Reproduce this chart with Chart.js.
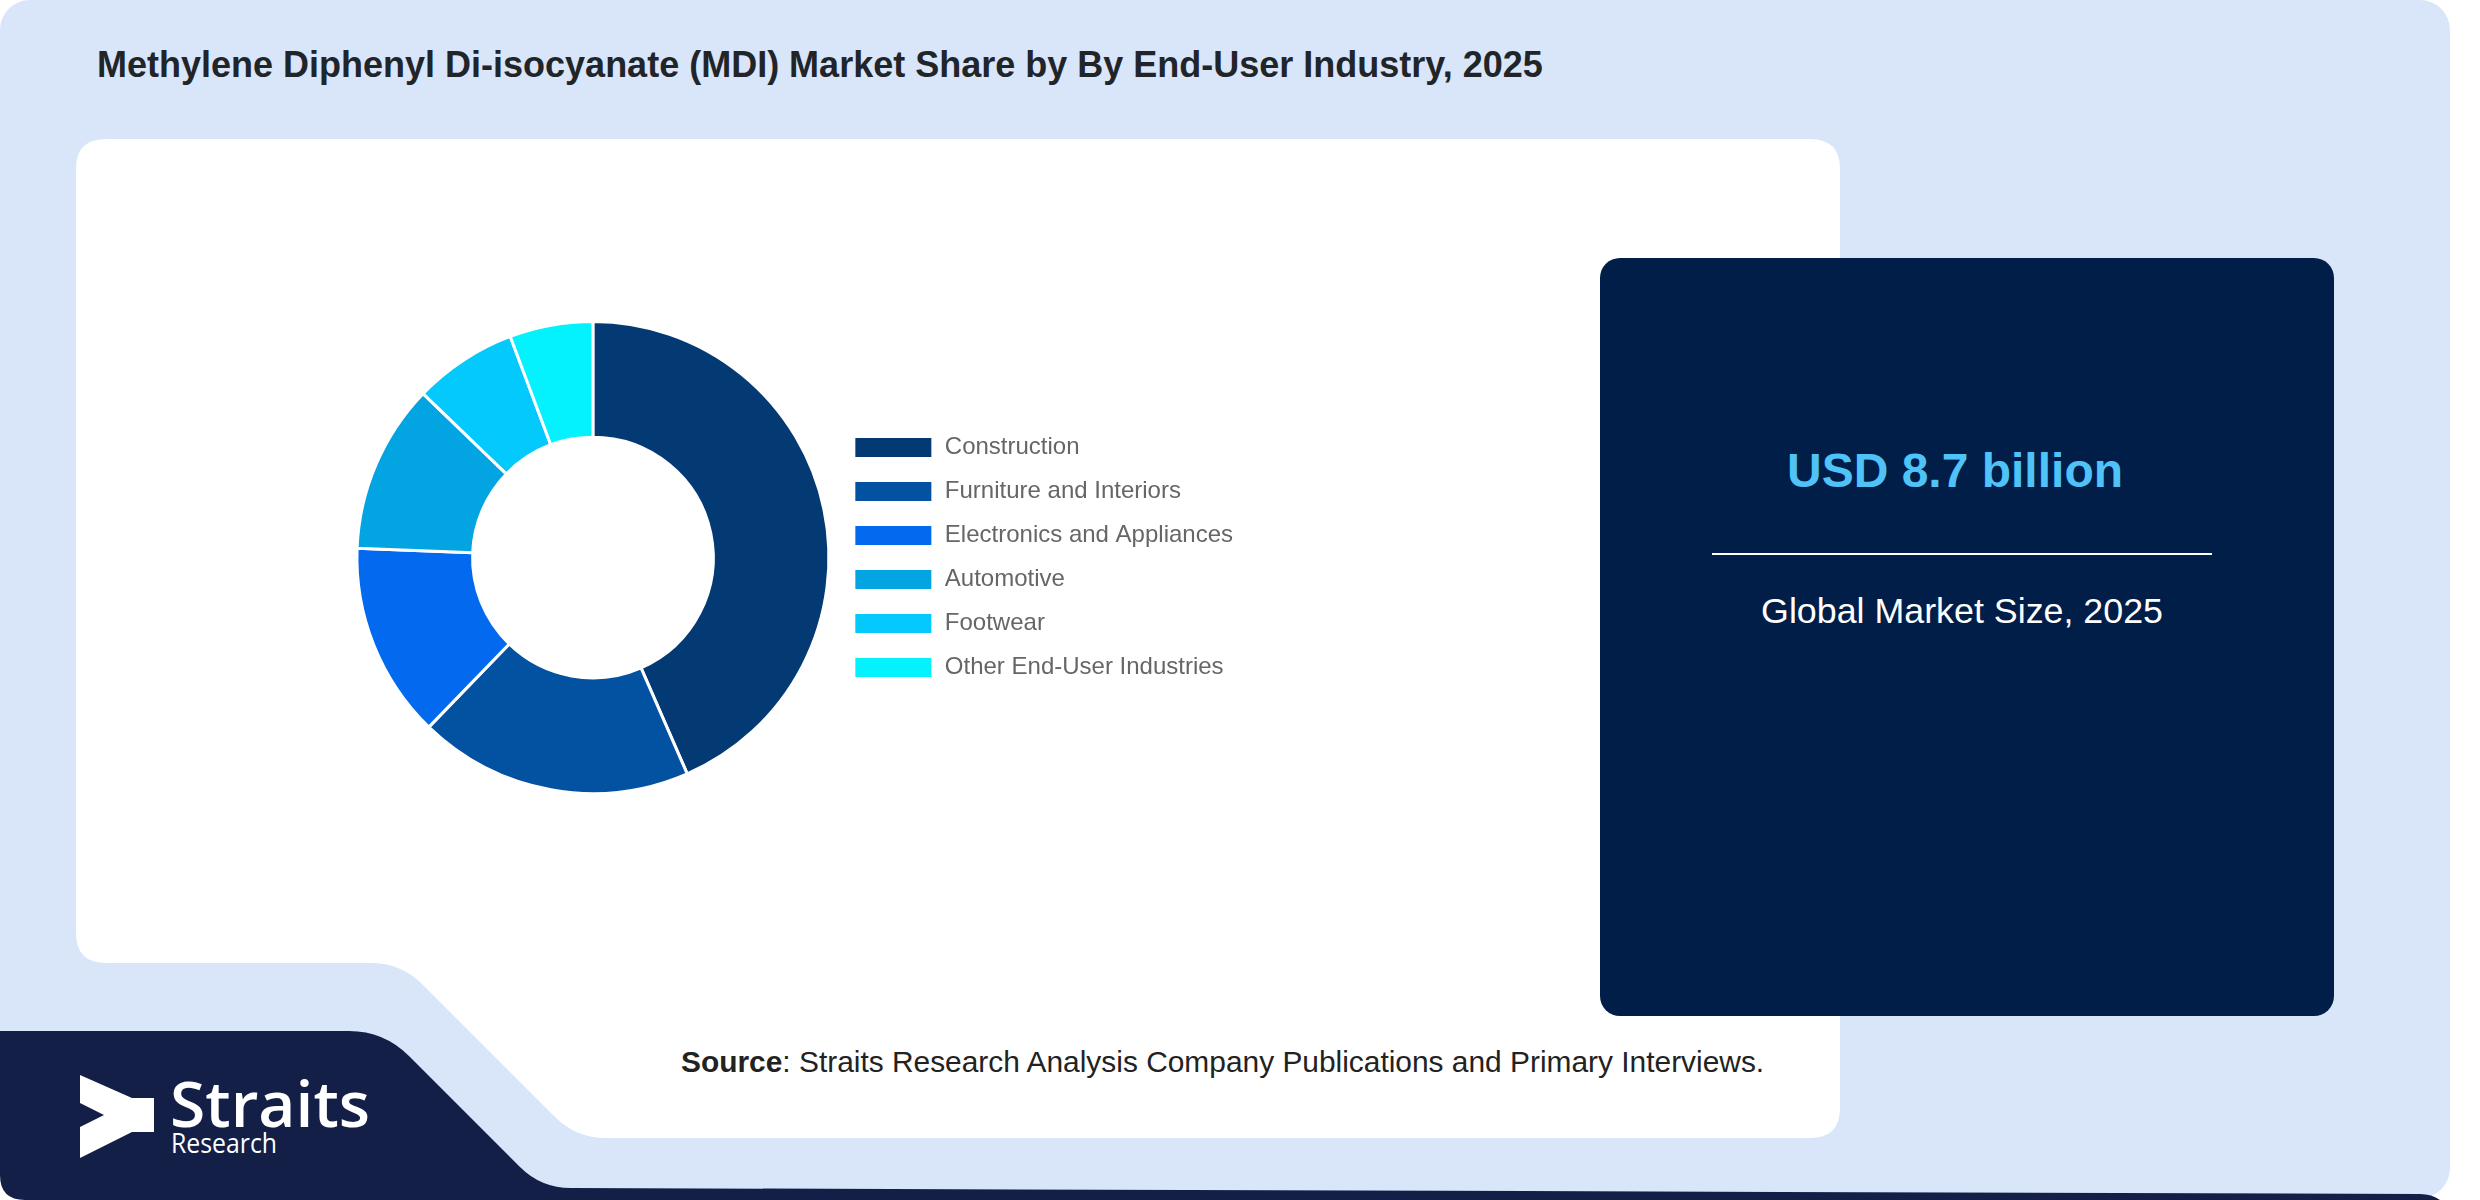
<!DOCTYPE html>
<html>
<head>
<meta charset="utf-8">
<script src="https://cdn.jsdelivr.net/npm/chart.js@4"></script>
<style>
  html, body { margin:0; padding:0; background:#ffffff; }
  body { width:2480px; height:1200px; position:relative; overflow:hidden; font-family:"Liberation Sans", Arial, sans-serif; }
  #bg { position:absolute; left:0; top:0; }
  #chartWrap { position:absolute; left:352px; top:320px; width:891px; height:475px; }
</style>
</head>
<body>
<script>
// ---- data ----
const categories = ["Construction", "Furniture and Interiors", "Electronics and Appliances", "Automotive", "Footwear", "Other End-User Industries"];
const shares = [43.5, 18.8, 13.4, 11.6, 7.1, 5.7];
const sliceColors = ["#033a74", "#0351a1", "#0369ee", "#03a4e2", "#03c9fc", "#03f2fd"];
const titleText = "Methylene Diphenyl Di-isocyanate (MDI) Market Share by By End-User Industry, 2025";
const marketValue = "USD 8.7 billion";
const marketLabel = "Global Market Size, 2025";
</script>

<svg id="bg" width="2480" height="1200" xmlns="http://www.w3.org/2000/svg">
  <rect x="0" y="0" width="2450" height="1198" rx="30" ry="30" fill="#d9e6f9"/>
  <!-- white panel with notch -->
  <path d="M 106,139 H 1810 Q 1840,139 1840,169 V 1108 Q 1840,1138 1810,1138 H 606 Q 576,1138 555,1117 L 422,984 Q 401,963 371,963 H 106 Q 76,963 76,933 V 169 Q 76,139 106,139 Z" fill="#ffffff"/>
  <!-- right summary box -->
  <rect x="1600" y="258" width="734" height="758" rx="20" ry="20" fill="#001e48"/>
  <!-- logo block -->
  <path d="M 0,1031 H 349 Q 384,1031 409,1056 L 520,1167 Q 541,1188 571,1188 L 2420,1194 Q 2432,1194 2440,1200 L 25,1200 Q 0,1200 0,1175 Z" fill="#131f47"/>
  <!-- logo icon -->
  <polygon points="80,1075 132,1098 154,1098 154,1132 132,1132 80,1158 80,1127 104,1115 80,1103" fill="#ffffff"/>
  <text x="170" y="1127" font-family="Open Sans" font-weight="600" font-size="63" fill="#ffffff" textLength="200" lengthAdjust="spacingAndGlyphs">Straits</text>
  <text x="171" y="1153" font-family="Open Sans" font-size="27" fill="#ffffff" textLength="106" lengthAdjust="spacingAndGlyphs">Research</text>

  <text id="title" x="97" y="77" font-family="Liberation Sans, Arial, sans-serif" font-weight="bold" font-size="36" fill="#212529"></text>
  <text id="val" x="1955" y="487" text-anchor="middle" font-family="Liberation Sans, Arial, sans-serif" font-weight="bold" font-size="48" fill="#4fc3f7"></text>
  <line x1="1712" y1="554" x2="2212" y2="554" stroke="#ffffff" stroke-width="2"/>
  <text id="lab" x="1962" y="623" text-anchor="middle" font-family="Liberation Sans, Arial, sans-serif" font-size="35.8" fill="#ffffff"></text>
  <text x="681" y="1072" font-family="Liberation Sans, Arial, sans-serif" font-size="29.9" fill="#222222"><tspan font-weight="bold">Source</tspan>: Straits Research Analysis Company Publications and Primary Interviews.</text>
</svg>

<div id="chartWrap"><canvas id="c" width="891" height="475"></canvas></div>

<script>
document.getElementById('title').textContent = titleText;
document.getElementById('val').textContent = marketValue;
document.getElementById('lab').textContent = marketLabel;

new Chart(document.getElementById('c'), {
  type: 'doughnut',
  data: {
    labels: categories,
    datasets: [{
      data: shares,
      backgroundColor: sliceColors,
      borderColor: '#ffffff',
      borderWidth: 3,
      hoverOffset: 0,
      offset: 0
    }]
  },
  options: {
    responsive: false,
    animation: false,
    devicePixelRatio: 1,
    cutout: '51%',
    layout: { padding: 0 },
    plugins: {
      tooltip: { enabled: false },
      legend: {
        position: 'right',
        align: 'center',
        labels: {
          boxWidth: 79,
          boxHeight: 22,
          padding: 20,
          color: '#666666',
          font: { family: '"Liberation Sans", Arial, sans-serif', size: 24 }
        }
      }
    }
  }
});
</script>
</body>
</html>
